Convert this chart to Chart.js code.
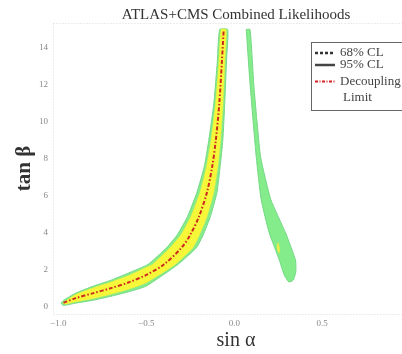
<!DOCTYPE html>
<html lang="en">
<head>
  <meta charset="UTF-8">
  <title>ATLAS+CMS Combined Likelihoods</title>
  <style>
    body { margin: 0; overflow: hidden; background: #fff; }
    .chart-container { position: relative; width: 472px; height: 354px; }
  </style>
</head>
<body>
  <div class="chart-container">
    <canvas id="likeChart"></canvas>
  </div>

  <script src="https://cdn.jsdelivr.net/npm/chart.js"></script>
  <script>
    // decoupling limit (red dash-dot line)
    const decoupSin = [-0.97, -0.9, -0.8, -0.7, -0.6, -0.5, -0.4, -0.3, -0.25, -0.2, -0.155, -0.125, -0.105, -0.085, -0.07, -0.06];
    const decoupTan = [0.22, 0.48, 0.75, 1.02, 1.33, 1.73, 2.3, 3.2, 3.9, 4.9, 6.2, 7.6, 9.0, 11.0, 13.3, 15.0];

    // 95% CL region, left branch (outline: upper-left edge up, lower-right edge down)
    const green1Sin = [-0.985, -0.97, -0.9, -0.8, -0.7, -0.6, -0.49, -0.385, -0.324, -0.265, -0.212, -0.17, -0.145, -0.116, -0.096, -0.083,
                       -0.037, -0.044, -0.054, -0.065, -0.08, -0.098, -0.135, -0.176, -0.215, -0.32, -0.5, -0.6, -0.7, -0.8, -0.9, -0.97, -0.985];
    const green1Tan = [0.2, 0.36, 0.75, 1.13, 1.45, 1.84, 2.3, 3.2, 3.9, 4.9, 6.2, 7.6, 9.0, 11.0, 13.3, 15.0,
                       15.0, 13.3, 11.0, 9.0, 7.6, 6.2, 4.9, 3.9, 3.2, 2.3, 1.13, 0.82, 0.58, 0.37, 0.21, 0.08, 0.2];

    // 68% CL region, left branch
    const yellow1Sin = [-0.975, -0.9, -0.8, -0.7, -0.6, -0.5, -0.465, -0.365, -0.303, -0.246, -0.194, -0.157, -0.132, -0.106, -0.087, -0.075,
                        -0.045, -0.053, -0.064, -0.078, -0.093, -0.116, -0.154, -0.197, -0.235, -0.335, -0.5, -0.6, -0.7, -0.8, -0.9, -0.96, -0.975];
    const yellow1Tan = [0.22, 0.68, 1.04, 1.35, 1.70, 2.15, 2.3, 3.2, 3.9, 4.9, 6.2, 7.6, 9.0, 11.0, 13.3, 15.0,
                        15.0, 13.3, 11.0, 9.0, 7.6, 6.2, 4.9, 3.9, 3.2, 2.3, 1.31, 0.96, 0.69, 0.46, 0.28, 0.15, 0.22];

    // 95% CL region, right branch
    const green2Sin = [0.068, 0.091, 0.125, 0.153, 0.199, 0.256, 0.284, 0.31, 0.335, 0.35, 0.348, 0.292, 0.208, 0.15, 0.112, 0.09, 0.068];
    const green2Tan = [15.0, 11.9, 8.1, 5.8, 4.0, 2.54, 1.73, 1.35, 1.45, 1.9, 2.54, 4.0, 5.8, 8.1, 11.9, 15.0, 15.0];

    // 68% CL island, right branch
    const yellow2Sin = [0.244, 0.25, 0.258, 0.257, 0.251, 0.244, 0.244];
    const yellow2Tan = [3.4, 3.45, 3.15, 2.95, 2.95, 3.2, 3.4];

    const xTickValues = [-1, -0.5, 0, 0.5];
    const xTickLabels = ['\u22121.0', '\u22120.5', '0.0', '0.5'];
    const yTickValues = [0, 2, 4, 6, 8, 10, 12, 14];
    const yTickLabels = ['0', '2', '4', '6', '8', '10', '12', '14'];

    const legendLabels = ['68% CL', '95% CL', 'Decoupling', 'Limit'];

    const serif = '"Liberation Serif", "DejaVu Serif", serif';
    const pts = (xs, ys) => xs.map((x, i) => ({ x: x, y: ys[i] }));

    // dotted frame round the plot area
    const frame = {
      id: 'frame',
      beforeDatasetsDraw(chart) {
        const a = chart.chartArea, ctx = chart.ctx;
        ctx.save();
        ctx.strokeStyle = '#d8d8d8';
        ctx.lineWidth = 1;
        ctx.setLineDash([1, 2]);
        ctx.strokeRect(a.left + 0.5, a.top + 0.5, a.right - a.left, a.bottom - a.top);
        ctx.restore();
      }
    };

    // boxed legend, top right
    const legendBox = {
      id: 'legendBox',
      afterDraw(chart) {
        const ctx = chart.ctx;
        ctx.save();
        ctx.fillStyle = '#fff';
        ctx.fillRect(311, 42, 130, 68);
        ctx.strokeStyle = '#666';
        ctx.lineWidth = 1;
        ctx.strokeRect(311.5, 42.5, 130, 68);

        const rows = [
          { y: 53, color: '#333', dash: [3, 2], width: 2.5 },
          { y: 65, color: '#444', dash: [], width: 2.5 },
          { y: 81.5, color: '#d62020', dash: [3, 1.5, 1, 1.5], width: 2 }
        ];
        rows.forEach(r => {
          ctx.beginPath();
          ctx.strokeStyle = r.color;
          ctx.lineWidth = r.width;
          ctx.setLineDash(r.dash);
          ctx.moveTo(315, r.y);
          ctx.lineTo(335, r.y);
          ctx.stroke();
        });

        ctx.fillStyle = '#444';
        ctx.font = '13px ' + serif;
        ctx.textBaseline = 'middle';
        ctx.fillText(legendLabels[0], 340, 53);
        ctx.fillText(legendLabels[1], 340, 65);
        ctx.fillText(legendLabels[2], 340, 81.5);
        ctx.fillText(legendLabels[3], 343, 98);
        ctx.restore();
      }
    };

    const ctx = document.getElementById('likeChart').getContext('2d');
    new Chart(ctx, {
      type: 'scatter',
      data: {
        datasets: [
          {
            label: 'Decoupling Limit',
            data: pts(decoupSin, decoupTan),
            showLine: true,
            borderColor: '#cc2a1e',
            borderWidth: 2,
            borderDash: [4, 2, 1.5, 2],
            pointRadius: 0,
            tension: 0.3,
            fill: false,
            order: 0
          },
          {
            label: '68% CL',
            data: pts(yellow1Sin, yellow1Tan),
            showLine: true,
            borderColor: '#eeee40',
            borderWidth: 0.5,
            backgroundColor: '#f7f73a',
            pointRadius: 0,
            tension: 0.15,
            fill: 'shape',
            order: 1
          },
          {
            label: '68% CL island',
            data: pts(yellow2Sin, yellow2Tan),
            showLine: true,
            borderColor: '#e6e640',
            borderWidth: 0.5,
            backgroundColor: '#f0f04a',
            pointRadius: 0,
            tension: 0.2,
            fill: 'shape',
            order: 1
          },
          {
            label: '95% CL',
            data: pts(green1Sin, green1Tan),
            showLine: true,
            borderColor: '#74d884',
            borderWidth: 1,
            backgroundColor: '#84ec8a',
            pointRadius: 0,
            tension: 0.15,
            fill: 'shape',
            order: 2
          },
          {
            label: '95% CL right',
            data: pts(green2Sin, green2Tan),
            showLine: true,
            borderColor: '#74d884',
            borderWidth: 1,
            backgroundColor: '#84ec8a',
            pointRadius: 0,
            tension: 0.15,
            fill: 'shape',
            order: 2
          }
        ]
      },
      options: {
        responsive: true,
        maintainAspectRatio: false,
        animation: false,
        layout: { padding: 0 },
        plugins: {
          legend: { display: false },
          tooltip: { enabled: false },
          title: {
            display: true,
            text: 'ATLAS+CMS Combined Likelihoods',
            color: '#333',
            font: { family: serif, size: 15, weight: 'normal', lineHeight: 1 },
            padding: { top: 7.5, bottom: 0.5 }
          },
          // x axis name, centred on the full canvas like the reference
          subtitle: {
            display: true,
            position: 'bottom',
            text: 'sin \u03b1',
            color: '#333',
            font: { family: serif, size: 20, weight: 'normal', lineHeight: 1.2 },
            padding: { top: 0, bottom: 1 }
          }
        },
        scales: {
          x: {
            type: 'linear',
            min: -1.03,
            max: 1.351,
            afterBuildTicks: s => { s.ticks = xTickValues.map(v => ({ value: v })); },
            afterFit: s => { s.height = 15; },
            grid: { display: false, drawTicks: false },
            border: { display: false },
            ticks: {
              padding: 4,
              color: '#888',
              font: { family: serif, size: 9 },
              callback: (v) => xTickLabels[xTickValues.indexOf(v)]
            }
          },
          y: {
            type: 'linear',
            min: -0.38,
            max: 15.35,
            afterBuildTicks: s => { s.ticks = yTickValues.map(v => ({ value: v })); },
            afterFit: s => { s.width = 53; },
            grid: { display: false, drawTicks: false },
            border: { display: false },
            ticks: {
              padding: 5,
              color: '#888',
              font: { family: serif, size: 9 },
              callback: (v) => yTickLabels[yTickValues.indexOf(v)]
            },
            title: {
              display: true,
              text: 'tan \u03b2',
              color: '#333',
              font: { family: serif, size: 21, weight: 'bold', lineHeight: 1.2 },
              padding: { top: 12, bottom: 0 }
            }
          }
        }
      },
      plugins: [frame, legendBox]
    });
  </script>
</body>
</html>
